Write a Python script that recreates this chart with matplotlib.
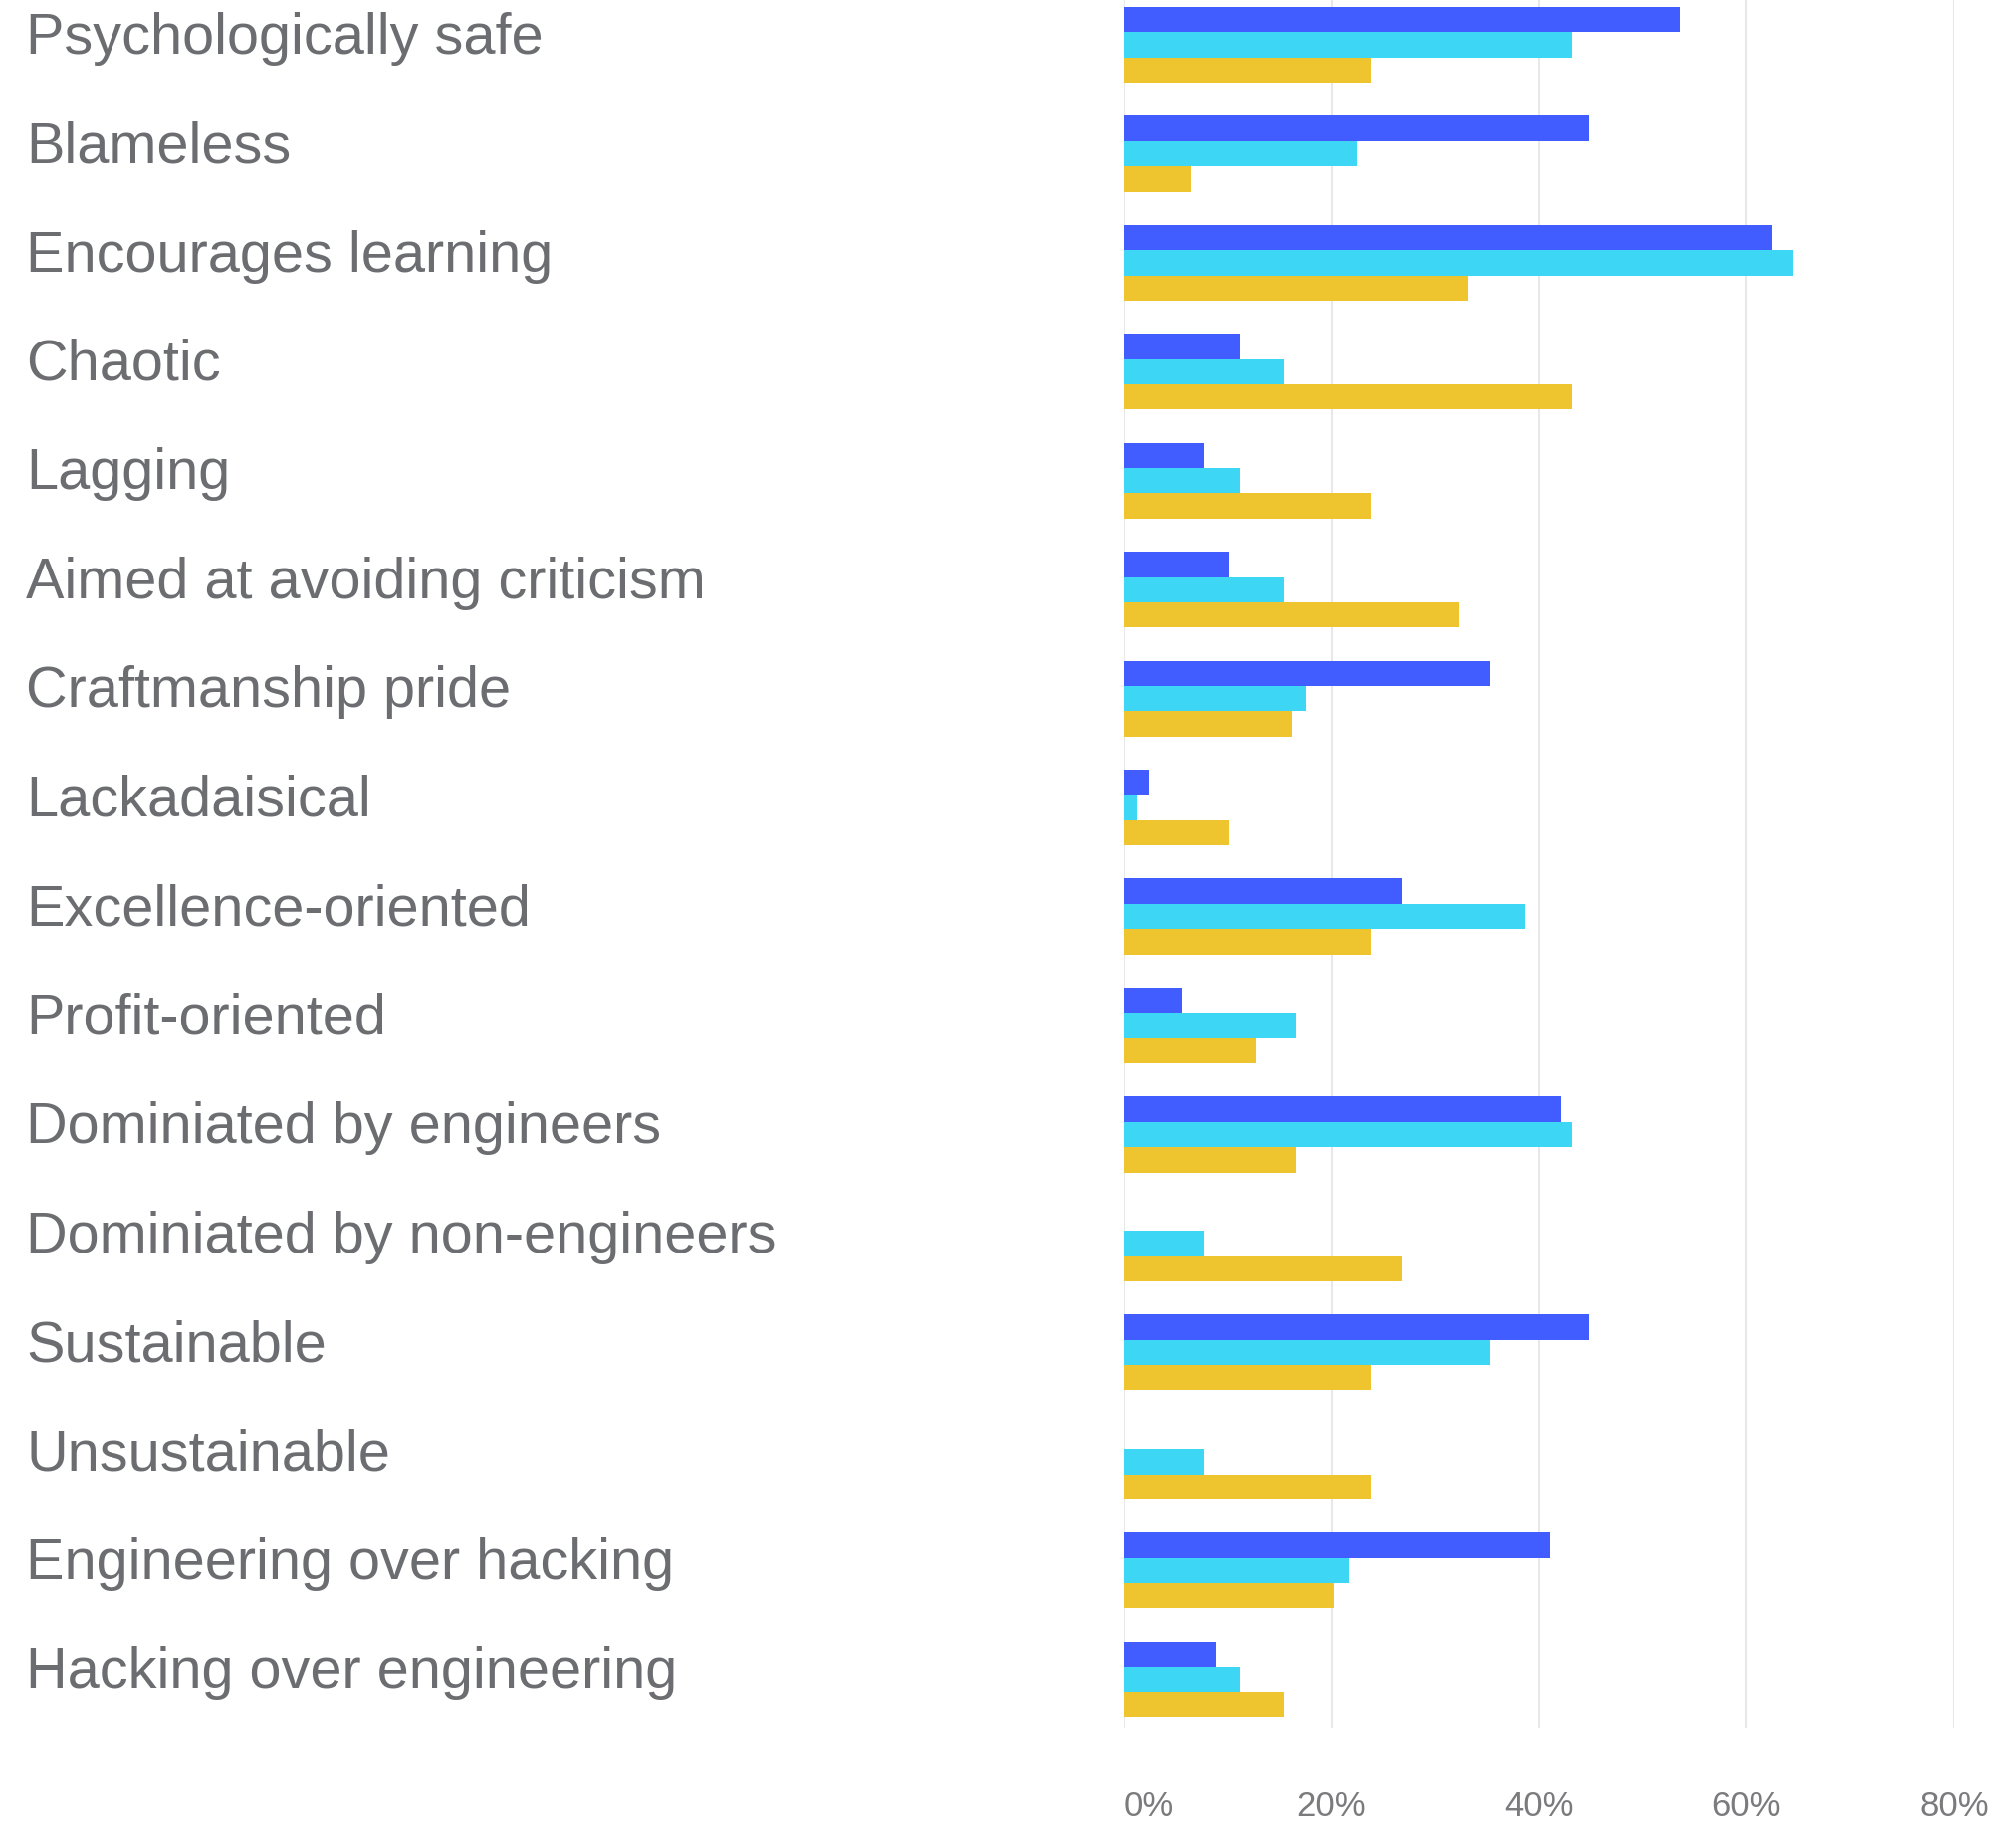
import numpy as np
import matplotlib.pyplot as plt

categories = [
    "Psychologically safe", "Blameless", "Encourages learning", "Chaotic",
    "Lagging", "Aimed at avoiding criticism", "Craftmanship pride",
    "Lackadaisical", "Excellence-oriented", "Profit-oriented",
    "Dominiated by engineers", "Dominiated by non-engineers", "Sustainable",
    "Unsustainable", "Engineering over hacking", "Hacking over engineering",
]
series_a = [53.6, 44.8, 62.4, 11.2, 7.7, 10.1, 35.3, 2.4, 26.8, 5.6, 42.1, 0.0, 44.8, 0.0, 41.1, 8.8]
series_b = [43.2, 22.4, 64.5, 15.4, 11.2, 15.4, 17.6, 1.2, 38.7, 16.6, 43.2, 7.7, 35.3, 7.7, 21.7, 11.2]
series_c = [23.8, 6.4, 33.2, 43.2, 23.8, 32.3, 16.2, 10.1, 23.8, 12.8, 16.6, 26.8, 23.8, 23.8, 20.2, 15.4]
tick_vals = [0, 20, 40, 60, 80]
tick_labels = ["0%", "20%", "40%", "60%", "80%"]

colors = ["#425DFF", "#3DD7F5", "#EEC52E"]
label_color = "#6c6d71"

plt.rcParams['font.family'] = ['Liberation Sans', 'DejaVu Sans']

fig = plt.figure(figsize=(20.25, 18.31), dpi=100)
ax = fig.add_axes([1129 / 2025, 1 - 1737 / 1831, (1963 - 1129) / 2025, 1737 / 1831])

y = np.arange(len(categories))
h = 0.232
for k, vals in enumerate([series_a, series_b, series_c]):
    ax.barh(y + (k - 1) * h, vals, height=h, color=colors[k], zorder=3)

ax.set_xlim(0, 80)
ax.set_ylim(15.45, -0.42)
ax.set_xticks(tick_vals)
ax.set_xticklabels(tick_labels, fontsize=25, color="#7b7b7e")
ax.xaxis.grid(True, color="#e8e8e8", linewidth=1.5, zorder=0)
ax.tick_params(axis='x', length=0, pad=44)
ax.get_xticklabels()[0].set_ha('left')
ax.set_yticks([])
for s in ax.spines.values():
    s.set_visible(False)

# category labels on the far left
x_label = -(1129 - 26) / ((1963 - 1129) / 80)
for i, name in enumerate(categories):
    ax.text(x_label, i + 0.07, name, fontsize=41.5,
            color=label_color, va='baseline', ha='left')

fig.savefig("out.png", dpi=100)
